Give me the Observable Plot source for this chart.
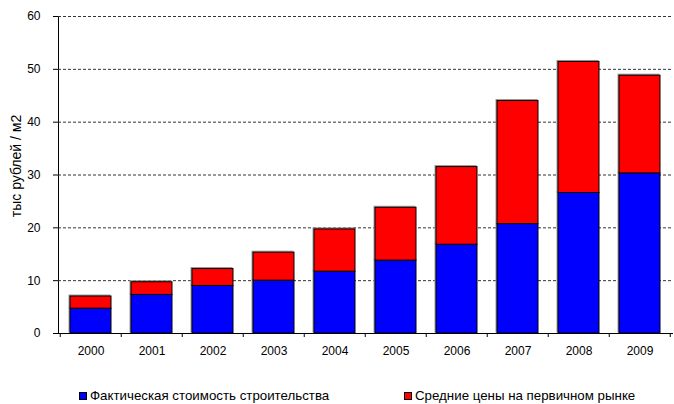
<!DOCTYPE html>
<html>
<head>
<meta charset="utf-8">
<script src="https://cdn.jsdelivr.net/npm/d3@7"></script>
<script src="https://cdn.jsdelivr.net/npm/@observablehq/plot@0.6"></script>
<style>
  body { margin: 0; background: #fff; font-family: "Liberation Sans", Arial, sans-serif; }
  #chart { width: 674px; }
  .legend { position: relative; height: 22px; font-size: 13.3px; color: #000; }
  .legend .item { position: absolute; top: 6px; display: flex; align-items: center; line-height: 15px; }
  .legend .sw { width: 6px; height: 6px; border: 1px solid #000; margin-right: 3px; }
</style>
</head>
<body>
<div id="chart"></div>
<script>
const years = ["2000","2001","2002","2003","2004","2005","2006","2007","2008","2009"];
const buildCost = [4.7, 7.3, 9.0, 10.0, 11.7, 13.8, 16.8, 20.7, 26.6, 30.3];
const avgPrice  = [7.0, 9.7, 12.2, 15.3, 19.7, 23.8, 31.5, 44.0, 51.4, 48.8];
const yTicks = [0, 10, 20, 30, 40, 50, 60];
const seriesNames = ["Фактическая стоимость строительства", "Средние цены на первичном рынке"];
const seriesColors = ["#0000FF", "#FF0000"];
const yLabel = "тыс рублей / м2";

const rows = [];
years.forEach((y, i) => rows.push({year: y, series: seriesNames[0], value: buildCost[i]}));
years.forEach((y, i) => rows.push({year: y, series: seriesNames[1], value: avgPrice[i] - buildCost[i]}));

const padIn = 0.32, padOut = 0.16;

function separatorTicks(index, scales, values, dims) {
  const x = scales.x;
  const step = x(years[1]) - x(years[0]);
  const g = d3.create("svg:g").attr("stroke", "#000").attr("stroke-width", 1);
  const y0 = dims.height - dims.marginBottom;
  const positions = years.map(y => x(y) - step * padOut);
  positions.push(x(years[years.length - 1]) + step * (1 - padOut));
  for (const px of positions) {
    g.append("line").attr("x1", px).attr("x2", px).attr("y1", y0).attr("y2", y0 + 4);
  }
  return g.node();
}

const chart = Plot.plot({
  width: 674,
  height: 382,
  marginTop: 16,
  marginBottom: 49,
  marginLeft: 58,
  marginRight: 1,
  style: { fontFamily: "Liberation Sans, Arial, sans-serif", fontSize: "12px", color: "#000", background: "#fff" },
  x: { domain: years, paddingInner: padIn, paddingOuter: padOut, tickSize: 0, tickPadding: 13, label: null },
  y: { domain: [0, 60], ticks: yTicks, tickSize: 5, tickPadding: 13, label: null, line: true },
  color: { domain: seriesNames, range: seriesColors },
  marks: [
    Plot.ruleY(yTicks.filter(d => d > 0), { stroke: "#333", strokeDasharray: "3,2" }),
    Plot.barY(rows, Plot.stackY({ x: "year", y: "value", fill: "#999", stroke: "#999", dx: -1, dy: -1 })),
    Plot.barY(rows, Plot.stackY({ x: "year", y: "value", fill: "series", stroke: "#000", strokeWidth: 1 })),
    Plot.ruleY([0], { stroke: "#000" }),
    separatorTicks,
    Plot.text([yLabel], { frameAnchor: "left", textAnchor: "middle", rotate: -90, dx: -42, dy: -9, fontSize: 14, fill: "#000" })
  ]
});
document.getElementById("chart").appendChild(chart);

const legend = document.createElement("div");
legend.className = "legend";
const lefts = [79, 404];
seriesNames.forEach((name, i) => {
  const item = document.createElement("div");
  item.className = "item";
  item.style.left = lefts[i] + "px";
  const sw = document.createElement("span");
  sw.className = "sw";
  sw.style.background = seriesColors[i];
  const t = document.createElement("span");
  t.textContent = name;
  item.appendChild(sw);
  item.appendChild(t);
  legend.appendChild(item);
});
document.getElementById("chart").appendChild(legend);
</script>
</body>
</html>
